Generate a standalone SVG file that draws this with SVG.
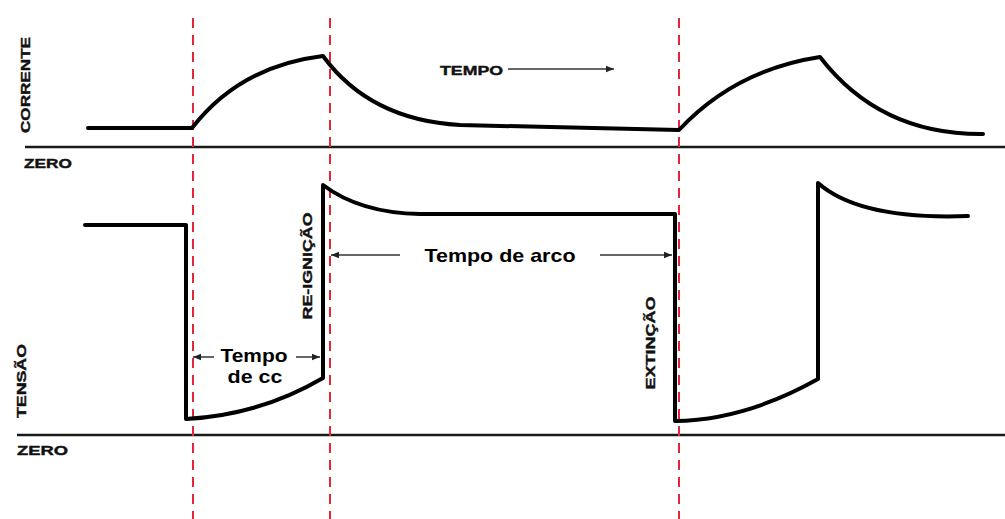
<svg xmlns="http://www.w3.org/2000/svg" width="1005" height="519" viewBox="0 0 1005 519">
<style>
.wave{fill:none;stroke:#000;stroke-width:4;stroke-linejoin:round;stroke-linecap:round}
.zero{stroke:#1a1a1a;stroke-width:2.5}
.red{stroke:#e0283a;stroke-width:2;stroke-dasharray:10 7}
.ax{font-family:"Liberation Sans",Arial,sans-serif;font-weight:bold;font-size:13px;fill:#111;stroke:#111;stroke-width:0.4}
.lbl{font-family:"Liberation Sans",Arial,sans-serif;font-weight:bold;font-size:19px;fill:#000}
.arr{stroke:#333;stroke-width:1.5;fill:none}
</style>
<defs>
<marker id="ah" viewBox="0 0 10 10" refX="10" refY="5" markerWidth="8" markerHeight="8" markerUnits="userSpaceOnUse" orient="auto-start-reverse">
<path d="M0,1 L10,5 L0,9 Z" fill="#222"/>
</marker>
</defs>
<rect width="1005" height="519" fill="#fff"/>
<g id="axes">
<line class="zero" x1="25" y1="147" x2="1005" y2="147"/>
<line class="zero" x1="17" y1="435" x2="1005" y2="435"/>
<text class="ax" transform="translate(30,85) rotate(-90)" text-anchor="middle" textLength="96" lengthAdjust="spacingAndGlyphs">CORRENTE</text>
<text class="ax" x="24" y="168" textLength="48" lengthAdjust="spacingAndGlyphs">ZERO</text>
<text class="ax" transform="translate(26,381) rotate(-90)" text-anchor="middle" textLength="74" lengthAdjust="spacingAndGlyphs">TENSÃO</text>
<text class="ax" x="17" y="455" textLength="51" lengthAdjust="spacingAndGlyphs">ZERO</text>
</g>
<g id="markers">
<line class="red" x1="193" y1="18" x2="193" y2="519"/>
<line class="red" x1="330" y1="18" x2="330" y2="519"/>
<line class="red" x1="679" y1="18" x2="679" y2="519"/>
</g>
<g id="current">
<path class="wave" d="M88,128 L192,128 Q240,66 323,56 Q370,120 460,125 L679,130 Q735,70 820,57 Q880,135 983,134"/>
</g>
<g id="voltage">
<path class="wave" d="M85,225 L186,225 L186,419 Q260,415 323,378 L323,185 Q360,213 420,214 L675,214 L675,421 Q745,420 818,379 L818,183 Q860,220 968,216"/>
</g>
<g id="labels">
<text class="ax" x="440" y="75" textLength="63" lengthAdjust="spacingAndGlyphs">TEMPO</text>
<text class="ax" transform="translate(312,266) rotate(-90)" text-anchor="middle" textLength="107" lengthAdjust="spacingAndGlyphs">RE-IGNIÇÃO</text>
<text class="ax" transform="translate(655,343) rotate(-90)" text-anchor="middle" textLength="93" lengthAdjust="spacingAndGlyphs">EXTINÇÃO</text>
<text class="lbl" x="500" y="262" text-anchor="middle" textLength="151" lengthAdjust="spacingAndGlyphs">Tempo de arco</text>
<text class="lbl" x="254" y="362" text-anchor="middle" textLength="67" lengthAdjust="spacingAndGlyphs">Tempo</text>
<text class="lbl" x="255" y="383" text-anchor="middle" textLength="55" lengthAdjust="spacingAndGlyphs">de cc</text>
</g>
<g id="connectors">
<line class="arr" x1="508" y1="69" x2="614" y2="69" marker-end="url(#ah)"/>
<line class="arr" x1="400" y1="255" x2="331" y2="255" marker-end="url(#ah)"/>
<line class="arr" x1="600" y1="255" x2="672" y2="255" marker-end="url(#ah)"/>
<line class="arr" x1="214" y1="357" x2="193" y2="357" marker-end="url(#ah)"/>
<line class="arr" x1="296" y1="357" x2="320" y2="357" marker-end="url(#ah)"/>
</g>
</svg>
